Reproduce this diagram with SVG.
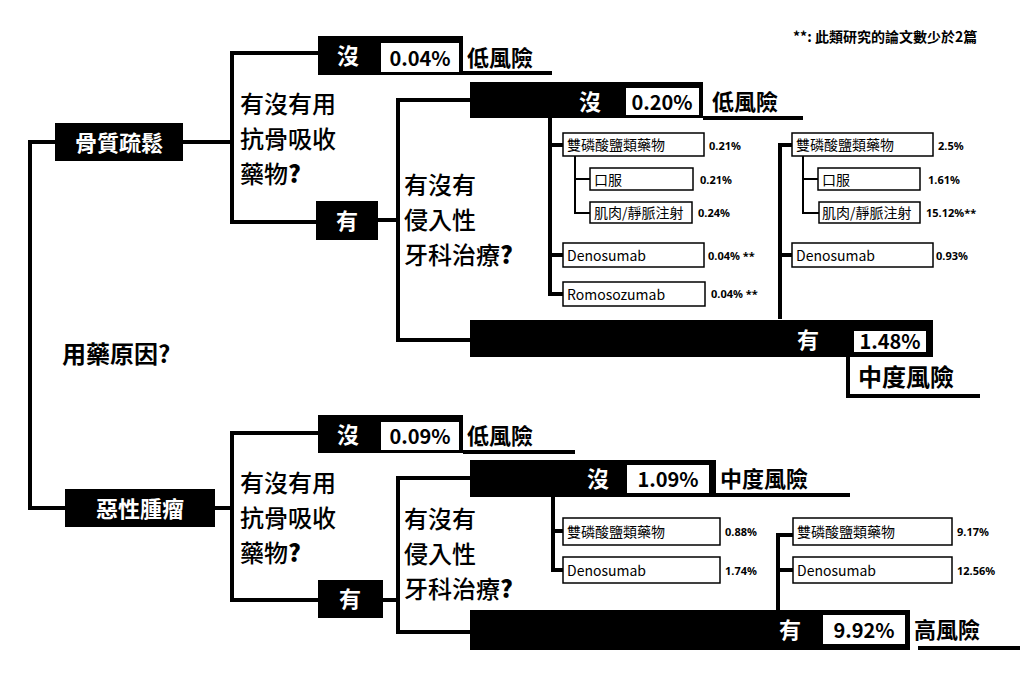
<svg xmlns="http://www.w3.org/2000/svg" width="1024" height="678" viewBox="0 0 1024 678">
<style>
.ln{stroke:#000;stroke-width:4;fill:none}
.tn{stroke:#000;stroke-width:2;fill:none}
.blk{fill:#000}
.wb{fill:#fff;stroke:#000;stroke-width:2}
.bx{fill:#fff;stroke:#000;stroke-width:1.5}
.t{font-family:"Noto Sans CJK TC","Noto Sans",sans-serif;font-weight:bold}
.w{fill:#fff}
.q{font-size:24px;font-family:"Noto Sans CJK TC",sans-serif;font-weight:500}
.b{font-size:14px;font-family:"Noto Sans CJK TC","Noto Sans",sans-serif}
.p{font-size:11px;font-family:"Noto Sans","Liberation Sans",sans-serif;font-weight:bold}
</style>
<rect width="1024" height="678" fill="#fff"/>
<g id="connectors">
<path class="ln" d="M55,142H30V508H65"/>
<path class="ln" d="M183,142H232M318,53H232V222H316"/>
<path class="ln" d="M378,220H398M470,100H398V340H470"/>
<path class="ln" d="M463,73H552"/>
<path class="ln" d="M703,118H803"/>
<path class="ln" d="M550,118V296M550,145H563M550,255H563M550,294H563"/>
<path class="tn" d="M575,156V214M575,179H590M575,213H590"/>
<path class="ln" d="M780,319V145H792M780,255H792"/>
<path class="tn" d="M803,156V214M803,179H818M803,213H819"/>
<path class="ln" d="M848,357V396H980"/>
<path class="ln" d="M215,508H232M318,433H232V600H318"/>
<path class="ln" d="M463,452H575"/>
<path class="ln" d="M383,600H398M470,478H398V632H470"/>
<path class="ln" d="M716,495H850"/>
<path class="ln" d="M553,497V572M553,531H563M553,570H563"/>
<path class="ln" d="M778,610V535H793M778,570H793"/>
<path class="ln" d="M918,648H1020"/>
</g>
<g id="root"><text class="t" x="62" y="363" font-size="24">用藥原因?</text></g>
<g id="note"><text class="b" x="793" y="42" font-size="10" font-weight="bold">**: 此類研究的論文數少於2篇</text></g>
<g id="osteo"><rect class="blk" x="55" y="123" width="128" height="38"/><text class="t w" x="119" y="151" font-size="22" text-anchor="middle">骨質疏鬆</text></g>
<g id="q1"><text class="q" x="240" y="113">有沒有用</text><text class="q" x="240" y="148">抗骨吸收</text><text class="q" x="240" y="183">藥物<tspan font-weight="900">?</tspan></text></g>
<g id="n1"><rect class="blk" x="318" y="36" width="145" height="39"/><rect class="wb" x="380" y="42" width="80" height="31"/><text class="t w" x="348" y="64" font-size="22" text-anchor="middle">沒</text><text class="t" x="420" y="66" font-size="20" text-anchor="middle">0.04%</text><text class="t" x="467" y="66" font-size="22">低風險</text></g>
<g id="y1"><rect class="blk" x="316" y="201" width="62" height="39"/><text class="t w" x="347" y="229" font-size="22" text-anchor="middle">有</text></g>
<g id="q2"><text class="q" x="404" y="194">有沒有</text><text class="q" x="404" y="229">侵入性</text><text class="q" x="404" y="264">牙科治療<tspan font-weight="900">?</tspan></text></g>
<g id="n2"><rect class="blk" x="470" y="82" width="233" height="36"/><rect class="wb" x="625" y="87" width="75" height="29"/><text class="t w" x="590" y="110" font-size="22" text-anchor="middle">沒</text><text class="t" x="662" y="110" font-size="20" text-anchor="middle">0.20%</text><text class="t" x="712" y="110" font-size="22">低風險</text></g>
<g id="a1"><rect class="bx" x="563" y="133" width="141" height="23"/><text class="b" x="567" y="150">雙磷酸鹽類藥物</text><text class="p" x="709" y="150">0.21%</text></g>
<g id="a2"><rect class="bx" x="590" y="168" width="103" height="22"/><text class="b" x="594" y="185">口服</text><text class="p" x="700" y="184">0.21%</text></g>
<g id="a3"><rect class="bx" x="590" y="202" width="102" height="21"/><text class="b" x="594" y="218">肌肉/靜脈注射</text><text class="p" x="698" y="217">0.24%</text></g>
<g id="a4"><rect class="bx" x="563" y="243" width="141" height="24"/><text class="b" x="567" y="261">Denosumab</text><text class="p" x="708" y="260">0.04% **</text></g>
<g id="a5"><rect class="bx" x="563" y="282" width="142" height="24"/><text class="b" x="567" y="300">Romosozumab</text><text class="p" x="711" y="298">0.04% **</text></g>
<g id="y2"><rect class="blk" x="470" y="320" width="463" height="37"/><rect class="wb" x="853" y="330" width="74" height="23"/><text class="t w" x="808" y="348" font-size="22" text-anchor="middle">有</text><text class="t" x="890" y="349" font-size="20" text-anchor="middle">1.48%</text><text class="t" x="858" y="386" font-size="24">中度風險</text></g>
<g id="b1"><rect class="bx" x="792" y="133" width="141" height="23"/><text class="b" x="796" y="150">雙磷酸鹽類藥物</text><text class="p" x="938" y="150">2.5%</text></g>
<g id="b2"><rect class="bx" x="818" y="168" width="102" height="22"/><text class="b" x="822" y="185">口服</text><text class="p" x="928" y="184">1.61%</text></g>
<g id="b3"><rect class="bx" x="819" y="202" width="101" height="21"/><text class="b" x="822" y="218">肌肉/靜脈注射</text><text class="p" x="926" y="217">15.12%**</text></g>
<g id="b4"><rect class="bx" x="792" y="243" width="141" height="24"/><text class="b" x="796" y="261">Denosumab</text><text class="p" x="936" y="260">0.93%</text></g>
<g id="tumor"><rect class="blk" x="65" y="489" width="150" height="38"/><text class="t w" x="140" y="517" font-size="22" text-anchor="middle">惡性腫瘤</text></g>
<g id="q3"><text class="q" x="240" y="492">有沒有用</text><text class="q" x="240" y="527">抗骨吸收</text><text class="q" x="240" y="562">藥物<tspan font-weight="900">?</tspan></text></g>
<g id="n3"><rect class="blk" x="318" y="415" width="145" height="38"/><rect class="wb" x="380" y="421" width="80" height="30"/><text class="t w" x="348" y="443" font-size="22" text-anchor="middle">沒</text><text class="t" x="420" y="444" font-size="20" text-anchor="middle">0.09%</text><text class="t" x="467" y="444" font-size="22">低風險</text></g>
<g id="y3"><rect class="blk" x="318" y="580" width="65" height="38"/><text class="t w" x="350" y="607" font-size="22" text-anchor="middle">有</text></g>
<g id="q4"><text class="q" x="404" y="528">有沒有</text><text class="q" x="404" y="563">侵入性</text><text class="q" x="404" y="598">牙科治療<tspan font-weight="900">?</tspan></text></g>
<g id="n4"><rect class="blk" x="470" y="460" width="246" height="37"/><rect class="wb" x="626" y="464" width="84" height="30"/><text class="t w" x="598" y="487" font-size="22" text-anchor="middle">沒</text><text class="t" x="668" y="487" font-size="20" text-anchor="middle">1.09%</text><text class="t" x="720" y="487" font-size="22">中度風險</text></g>
<g id="c1"><rect class="bx" x="563" y="518" width="157" height="27"/><text class="b" x="567" y="537">雙磷酸鹽類藥物</text><text class="p" x="725" y="536">0.88%</text></g>
<g id="c2"><rect class="bx" x="563" y="557" width="157" height="26"/><text class="b" x="567" y="576">Denosumab</text><text class="p" x="725" y="575">1.74%</text></g>
<g id="d1"><rect class="bx" x="793" y="518" width="159" height="27"/><text class="b" x="797" y="537">雙磷酸鹽類藥物</text><text class="p" x="957" y="536">9.17%</text></g>
<g id="d2"><rect class="bx" x="793" y="557" width="159" height="26"/><text class="b" x="797" y="576">Denosumab</text><text class="p" x="957" y="575">12.56%</text></g>
<g id="y4"><rect class="blk" x="470" y="610" width="440" height="40"/><rect class="wb" x="822" y="614" width="84" height="31"/><text class="t w" x="790" y="638" font-size="22" text-anchor="middle">有</text><text class="t" x="864" y="638" font-size="20" text-anchor="middle">9.92%</text><text class="t" x="914" y="638" font-size="22">高風險</text></g>
</svg>
